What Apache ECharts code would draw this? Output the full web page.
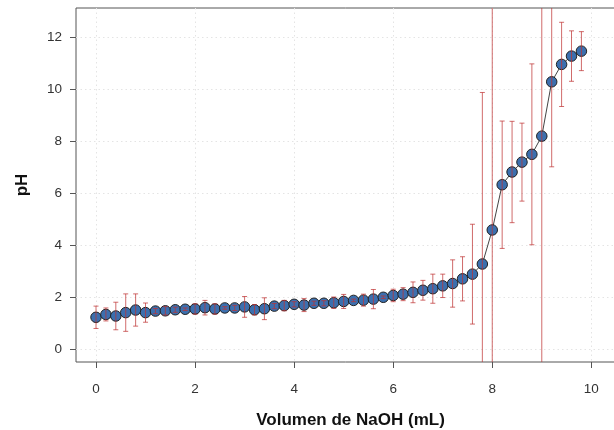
<!DOCTYPE html>
<html>
<head>
<meta charset="utf-8">
<script src="https://cdn.jsdelivr.net/npm/echarts@6/dist/echarts.min.js"></script>
<style>html,body{margin:0;padding:0;background:#fff;}#c{width:614px;height:430px;}</style>
</head>
<body>
<div id="c"></div>
<script>
const volumes = [0,0.2,0.4,0.6,0.8,1.0,1.2,1.4,1.6,1.8,
  2.0,2.2,2.4,2.6,2.8,3.0,3.2,3.4,3.6,3.8,
  4.0,4.2,4.4,4.6,4.8,5.0,5.2,5.4,5.6,5.8,
  6.0,6.2,6.4,6.6,6.8,7.0,7.2,7.4,7.6,7.8,
  8.0,8.2,8.4,8.6,8.8,9.0,9.2,9.4,9.6,9.8];
const phValues = [1.22,1.33,1.27,1.40,1.50,1.40,1.46,1.47,1.51,1.53,
  1.54,1.59,1.54,1.58,1.58,1.62,1.51,1.55,1.65,1.67,
  1.72,1.69,1.76,1.76,1.78,1.83,1.87,1.88,1.92,1.99,
  2.06,2.11,2.18,2.26,2.32,2.43,2.52,2.70,2.88,3.27,
  4.58,6.32,6.81,7.19,7.49,8.19,10.28,10.95,11.27,11.46];
const phErrors = [0.43,0.25,0.53,0.72,0.62,0.37,0.10,0.16,0.10,0.05,
  0.20,0.28,0.20,0.05,0.10,0.40,0.20,0.42,0.10,0.20,
  0.10,0.25,0.08,0.10,0.22,0.27,0.05,0.23,0.37,0.05,
  0.24,0.25,0.40,0.38,0.56,0.45,0.91,0.85,1.92,6.60,
  10.0,2.45,1.95,1.50,3.48,9.0,3.27,1.62,0.97,0.75];
const xTicks = [0,2,4,6,8,10];
const yTicks = [0,2,4,6,8,10,12];

const X_MIN = -0.404, X_MAX = 10.68, Y_MIN = -0.5, Y_MAX = 13.12;
const FONT = '"Liberation Sans", Arial, Helvetica, sans-serif';

const lineData = volumes.map((v,i)=>[v, phValues[i]]);
const errData = volumes.map((v,i)=>[v, phValues[i]-phErrors[i], phValues[i]+phErrors[i]]);

const chart = echarts.init(document.getElementById('c'), null, {renderer:'canvas'});
const errColor = 'rgba(190,50,50,0.72)';
chart.setOption({
  animation: false,
  backgroundColor: '#fff',
  grid: {left:76, top:8, right:-11, bottom:68, show:true, borderColor:'#555', borderWidth:1,
         backgroundColor:'transparent', containLabel:false, outerBoundsMode:'none'},
  xAxis: {
    type:'value', min:X_MIN, max:X_MAX,
    name:'Volumen de NaOH (mL)', nameLocation:'middle', nameGap:50,
    nameTextStyle:{fontFamily:FONT, fontWeight:'bold', fontSize:17, color:'#111'},
    axisLine:{show:false, onZero:false},
    axisTick:{show:true, length:6, lineStyle:{color:'#555'}, customValues:xTicks},
    axisLabel:{fontFamily:FONT, fontSize:13.5, color:'#333', margin:20, customValues:xTicks, formatter:v=>String(v)},
    splitLine:{show:true, lineStyle:{color:'#e4e4e4', type:[1.5,3], width:1}}
  },
  yAxis: {
    type:'value', min:Y_MIN, max:Y_MAX,
    name:'pH', nameLocation:'middle', nameGap:45,
    nameTextStyle:{fontFamily:FONT, fontWeight:'bold', fontSize:17, color:'#111'},
    axisLine:{show:false, onZero:false},
    axisTick:{show:true, length:6, lineStyle:{color:'#555'}, customValues:yTicks},
    axisLabel:{fontFamily:FONT, fontSize:13.5, color:'#333', margin:14, customValues:yTicks, formatter:v=>String(v)},
    splitLine:{show:true, lineStyle:{color:'#e4e4e4', type:[1.5,3], width:1}}
  },
  series: [
    {
      type:'line', data:lineData, z:2,
      symbol:'circle', symbolSize:10.5,
      lineStyle:{color:'#444', width:1},
      itemStyle:{color:'#3c6fae', borderColor:'#222', borderWidth:1},
      emphasis:{disabled:true}
    },
    {
      type:'custom', data:errData, z:3, clip:true,
      renderItem: function(params, api){
        const x = api.value(0);
        let lo = api.value(1), hi = api.value(2);
        const loCap = lo >= Y_MIN, hiCap = hi <= Y_MAX;
        lo = Math.max(lo, Y_MIN); hi = Math.min(hi, Y_MAX);
        const pLo = api.coord([x, lo]), pHi = api.coord([x, hi]);
        const c = 2.5;
        const style = {stroke: errColor, lineWidth:1, fill:null};
        const children = [{type:'line', shape:{x1:pLo[0], y1:pLo[1], x2:pHi[0], y2:pHi[1]}, style}];
        if (hiCap) children.push({type:'line', shape:{x1:pHi[0]-c, y1:pHi[1], x2:pHi[0]+c, y2:pHi[1]}, style});
        if (loCap) children.push({type:'line', shape:{x1:pLo[0]-c, y1:pLo[1], x2:pLo[0]+c, y2:pLo[1]}, style});
        return {type:'group', children};
      }
    }
  ]
});
</script>
</body>
</html>
